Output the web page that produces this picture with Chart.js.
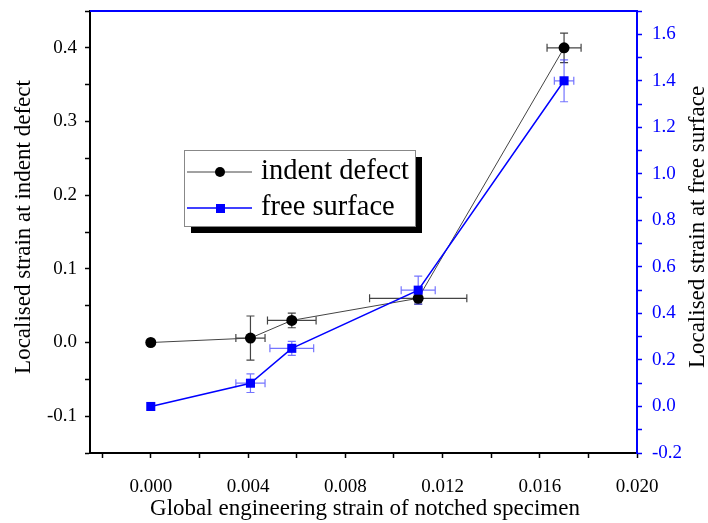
<!DOCTYPE html>
<html>
<head>
<meta charset="utf-8">
<script src="https://cdn.jsdelivr.net/npm/chart.js@4"></script>
<style>
  html, body { margin: 0; padding: 0; background: #ffffff; }
  #wrap { width: 708px; height: 523px; }
</style>
</head>
<body>
<div id="wrap"><canvas id="chart" width="708" height="523"></canvas></div>
<script>
// Global strain of the notched specimen (x) and its error
const globalStrain = [0, 0.0041, 0.0058, 0.011, 0.017];
const indentXErr = [0, 0.0006, 0.001, 0.002, 0.0007];
const surfaceXErr = [0, 0.0006, 0.0009, 0.0007, 0.0004];

// Localised strain at indent defect (left axis)
const indentStrain = [0, 0.006, 0.03, 0.06, 0.4];
const indentYErr = [0, 0.03, 0.01, 0.008, 0.02];

// Localised strain at free surface (right axis)
const surfaceStrain = [0, 0.1, 0.25, 0.5, 1.4];
const surfaceYErr = [0, 0.04, 0.03, 0.06, 0.09];

const seriesNames = ['indent defect', 'free surface'];
const xTitle = 'Global engineering strain of notched specimen';
const yTitle = 'Localised strain at indent defect';
const y2Title = 'Localised strain at free surface';

const FONT = '"Liberation Serif", "Times New Roman", serif';
const BLUE = '#0000ff';

function isMultiple(v, step) {
    const r = v / step;
    return Math.abs(r - Math.round(r)) < 1e-6;
}

function fmt(v, d) {
    if (Math.abs(v) < 1e-9) v = 0;
    return v.toFixed(d);
}

// error bars, drawn behind the markers
const errorBars = {
    id: 'errorBars',
    beforeDatasetsDraw(chart) {
        const ctx = chart.ctx;
        const x = chart.scales.x;
        const sets = [
            { y: chart.scales.y, vals: indentStrain, ye: indentYErr, xe: indentXErr, color: '#444444' },
            { y: chart.scales.y2, vals: surfaceStrain, ye: surfaceYErr, xe: surfaceXErr, color: 'rgba(70,70,255,0.75)' }
        ];
        const cap = 4;
        ctx.save();
        ctx.lineWidth = 1.2;
        sets.forEach(s => {
            ctx.strokeStyle = s.color;
            globalStrain.forEach((gx, i) => {
                const px = x.getPixelForValue(gx);
                const py = s.y.getPixelForValue(s.vals[i]);
                if (s.ye[i] > 0) {
                    const t = s.y.getPixelForValue(s.vals[i] + s.ye[i]);
                    const b = s.y.getPixelForValue(s.vals[i] - s.ye[i]);
                    ctx.beginPath();
                    ctx.moveTo(px, t); ctx.lineTo(px, b);
                    ctx.moveTo(px - cap, t); ctx.lineTo(px + cap, t);
                    ctx.moveTo(px - cap, b); ctx.lineTo(px + cap, b);
                    ctx.stroke();
                }
                if (s.xe[i] > 0) {
                    const l = x.getPixelForValue(gx - s.xe[i]);
                    const r = x.getPixelForValue(gx + s.xe[i]);
                    ctx.beginPath();
                    ctx.moveTo(l, py); ctx.lineTo(r, py);
                    ctx.moveTo(l, py - cap); ctx.lineTo(l, py + cap);
                    ctx.moveTo(r, py - cap); ctx.lineTo(r, py + cap);
                    ctx.stroke();
                }
            });
        });
        ctx.restore();
    }
};

// top border, axis titles and the boxed legend
const decorations = {
    id: 'decorations',
    afterDraw(chart) {
        const ctx = chart.ctx;
        const a = chart.chartArea;
        ctx.save();

        // blue top frame line
        ctx.strokeStyle = BLUE;
        ctx.lineWidth = 2;
        ctx.beginPath();
        ctx.moveTo(a.left, a.top);
        ctx.lineTo(a.right, a.top);
        ctx.stroke();

        // titles
        ctx.font = '23px ' + FONT;
        ctx.textAlign = 'center';
        ctx.textBaseline = 'middle';
        ctx.fillStyle = '#000';
        ctx.fillText(xTitle, 365, 509);

        ctx.save();
        ctx.translate(24, 227);
        ctx.rotate(-Math.PI / 2);
        ctx.fillText(yTitle, 0, 0);
        ctx.restore();

        ctx.save();
        ctx.translate(698, 227);
        ctx.rotate(-Math.PI / 2);
        ctx.fillText(y2Title, 0, 0);
        ctx.restore();

        // legend box with shadow
        const bx = 184, by = 150, bw = 231, bh = 76;
        ctx.fillStyle = '#000';
        ctx.fillRect(bx + 7, by + 7, bw, bh);
        ctx.fillStyle = '#fff';
        ctx.fillRect(bx, by, bw, bh);
        ctx.strokeStyle = '#888';
        ctx.lineWidth = 1;
        ctx.strokeRect(bx + 0.5, by + 0.5, bw, bh);

        const rows = [
            { y: 172, color: '#444444', mark: '#000', lw: 1, shape: 'circle', name: seriesNames[0] },
            { y: 208, color: BLUE, mark: BLUE, lw: 1.5, shape: 'rect', name: seriesNames[1] }
        ];
        rows.forEach(r => {
            ctx.strokeStyle = r.color;
            ctx.lineWidth = r.lw;
            ctx.beginPath();
            ctx.moveTo(187, r.y);
            ctx.lineTo(252, r.y);
            ctx.stroke();
            ctx.fillStyle = r.mark;
            if (r.shape === 'circle') {
                ctx.beginPath();
                ctx.arc(220, r.y, 5, 0, Math.PI * 2);
                ctx.fill();
            } else {
                ctx.fillRect(216, r.y - 4, 9, 9);
            }
            ctx.fillStyle = '#000';
            ctx.font = '28.5px ' + FONT;
            ctx.textAlign = 'left';
            ctx.textBaseline = 'middle';
            ctx.fillText(r.name, 261, r.y);
        });

        ctx.restore();
    }
};

Chart.defaults.font.family = FONT;
Chart.defaults.font.size = 19;
Chart.defaults.color = '#000';

const points = (ys) => globalStrain.map((gx, i) => ({ x: gx, y: ys[i] }));

function fixVertical(w) {
    return (s) => { s.width = w; s.paddingTop = 0; s.paddingBottom = 0; };
}

new Chart(document.getElementById('chart'), {
    type: 'scatter',
    data: {
        datasets: [
            {
                label: seriesNames[1],
                data: points(surfaceStrain),
                yAxisID: 'y2',
                showLine: true,
                borderColor: BLUE,
                borderWidth: 1.5,
                backgroundColor: BLUE,
                pointStyle: 'rect',
                pointRadius: 6.4,
                pointBorderWidth: 0
            },
            {
                label: seriesNames[0],
                data: points(indentStrain),
                yAxisID: 'y',
                showLine: true,
                borderColor: '#444444',
                borderWidth: 1,
                backgroundColor: '#000',
                pointStyle: 'circle',
                pointRadius: 5.5,
                pointBorderWidth: 0
            }
        ]
    },
    options: {
        responsive: false,
        animation: false,
        layout: { padding: { top: 11, left: 0, right: 0, bottom: 0 } },
        plugins: {
            legend: { display: false },
            tooltip: { enabled: false }
        },
        scales: {
            x: {
                type: 'linear',
                position: 'bottom',
                min: -0.0025,
                max: 0.02,
                border: { color: '#000', width: 2 },
                grid: { drawOnChartArea: false, tickLength: 5, color: '#000', tickWidth: 1.5 },
                ticks: {
                    stepSize: 0.002,
                    includeBounds: false,
                    autoSkip: false,
                    maxRotation: 0,
                    padding: 18,
                    callback: (v) => (v >= -1e-9 && isMultiple(v, 0.004)) ? fmt(v, 3) : ''
                },
                afterFit: (s) => { s.height = 70; s.paddingLeft = 0; s.paddingRight = 0; }
            },
            y: {
                type: 'linear',
                position: 'left',
                min: -0.15,
                max: 0.45,
                border: { color: '#000', width: 2 },
                grid: { drawOnChartArea: false, tickLength: 5, color: '#000', tickWidth: 1.5 },
                ticks: {
                    stepSize: 0.05,
                    includeBounds: false,
                    autoSkip: false,
                    padding: 8,
                    callback: (v) => isMultiple(v, 0.1) ? fmt(v, 1) : ''
                },
                afterFit: fixVertical(90)
            },
            y2: {
                type: 'linear',
                position: 'right',
                min: -0.2,
                max: 1.7,
                border: { color: BLUE, width: 2 },
                grid: { drawOnChartArea: false, tickLength: 5, color: BLUE, tickWidth: 1.5 },
                ticks: {
                    color: BLUE,
                    stepSize: 0.1,
                    includeBounds: false,
                    autoSkip: false,
                    padding: 10,
                    callback: (v) => isMultiple(v, 0.2) ? fmt(v, 1) : ''
                },
                afterFit: fixVertical(71)
            }
        }
    },
    plugins: [errorBars, decorations]
});
</script>
</body>
</html>
